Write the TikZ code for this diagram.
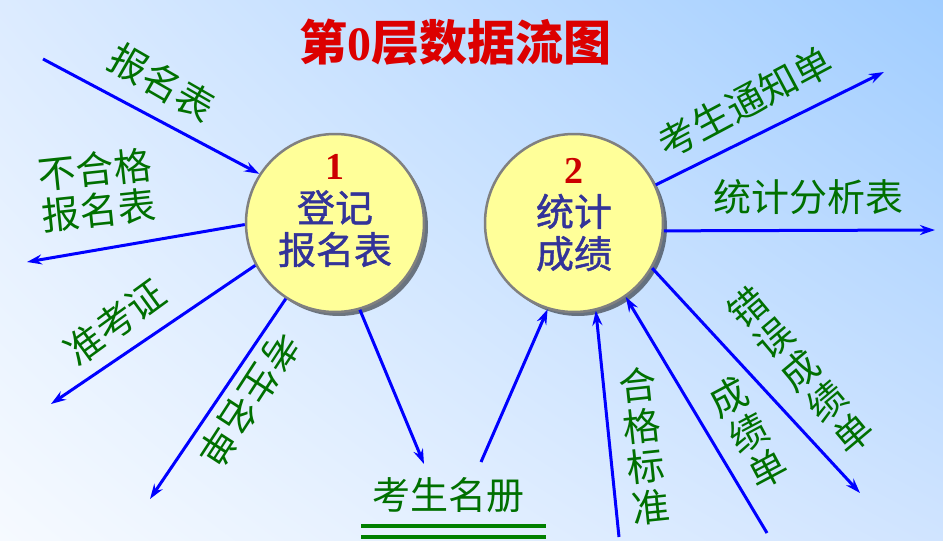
\documentclass[tikz,border=0pt]{standalone}
\usepackage{fontspec}
\setmainfont{Liberation Serif}
\newfontfamily\cjk{Noto Sans CJK SC}
\newfontfamily\cjkthick{Noto Sans CJK SC}[FakeBold=1.2]
\usetikzlibrary{arrows.meta, shadows, shadings, calc}
\definecolor{flowblue}{RGB}{0,0,255}
\definecolor{labelgreen}{RGB}{0,112,0}
\definecolor{storegreen}{RGB}{0,128,0}
\definecolor{procfill}{RGB}{255,255,153}
\definecolor{procline}{RGB}{128,128,128}
\definecolor{proctext}{RGB}{51,51,153}
\definecolor{numred}{RGB}{204,0,0}
\definecolor{titlered}{RGB}{220,0,0}
\definecolor{bgul}{RGB}{220,235,255}
\definecolor{bgur}{RGB}{160,205,255}
\definecolor{bgll}{RGB}{246,250,255}
\definecolor{bglr}{RGB}{208,228,255}

\begin{document}
\begin{tikzpicture}[
    x=1pt, y=-1pt,
    proc/.style={circle, draw=procline, line width=2.5pt, fill=procfill, minimum size=178pt, inner sep=0pt,
        drop shadow={shadow xshift=4pt, shadow yshift=-4pt, fill=black, opacity=0.5}},
    proctext/.style={align=center, inner sep=0pt, text=proctext, font=\cjkthick\fontsize{38}{42}\selectfont},
    lbl/.style={inner sep=0pt, text=labelgreen, font=\cjk\fontsize{38}{41}\selectfont},
    stack/.style={lbl, align=center},
    flow/.style={-{Stealth[length=15pt, width=10pt, inset=5pt]}, line width=3pt, flowblue},
    storeline/.style={storegreen, line width=4.5pt},
]
    \useasboundingbox (0,0) rectangle (943,541);
    \shade[upper left=bgul, upper right=bgur, lower left=bgll, lower right=bglr] (0,0) rectangle (943,541);

    \node[text=titlered, font=\cjk\bfseries\fontsize{48}{56}\selectfont] (title) at (455,42)
        {第{\normalfont\bfseries 0}层数据流图};

    \node[proc] (p1) at (335,223) {};
    \node[proc] (p2) at (574,223) {};
    \node[proctext] (p1txt) at ([yshift=12pt]p1.center) {{\normalfont\bfseries\color{numred}1}\\登记\\报名表};
    \node[proctext] (p2txt) at ([yshift=8pt]p2.center) {{\normalfont\bfseries\color{numred}2}\\统计\\成绩};

    \node[lbl] (store) at (448,495) {考生名册};
    \draw[storeline] ($(store)+(-87,31)$) -- ++(185,0);
    \draw[storeline] ($(store)+(-87,42)$) -- ++(185,0);

    \coordinate (a1) at (43,59);
    \coordinate (b1) at (27,262);
    \coordinate (c1) at (51,404);
    \coordinate (d1) at (150,499);
    \coordinate (e1) at (424,464);
    \coordinate (f1) at (481,462);
    \coordinate (g1) at (619,537);
    \coordinate (h1) at (767,533);
    \coordinate (i1) at (860,493);
    \coordinate (j1) at (884,72);
    \coordinate (k1) at (935,230);

    \draw[flow] (a1) -- (p1.147);
    \draw[flow] (p1.181) -- (b1);
    \draw[flow] (p1.208) -- (c1);
    \draw[flow] (p1.237) -- (d1);
    \draw[flow] (p1.286) -- (e1);
    \draw[flow] (f1) -- (p2.253);
    \draw[flow] (g1) -- (p2.284);
    \draw[flow] (h1) -- (p2.305);
    \draw[flow] (p2.330) -- (i1);
    \draw[flow] (p2.25) -- (j1);
    \draw[flow] (p2.355) -- (k1);

    \node[lbl, rotate=-30] (regform) at (162,82) {报名表};
    \node[stack, rotate=6, align=left] (rejform) at (97,190) {不合格\\报名表};
    \node[lbl, rotate=36] (admit) at (115,322) {准考证};
    \node[lbl, rotate=-123] (namelist) at (249,400) {考生名单};
    \node[stack, rotate=6] (standard) at (644,446) {合\\格\\标\\准};
    \node[stack, rotate=28] (scores) at (748,433) {成\\绩\\单};
    \node[stack, rotate=40] (errscores) at (800,370) {错\\误\\成\\绩\\单};
    \node[lbl, rotate=28] (notice) at (745,102) {考生通知单};
    \node[lbl] (stats) at (808,197) {统计分析表};
\end{tikzpicture}
\end{document}
